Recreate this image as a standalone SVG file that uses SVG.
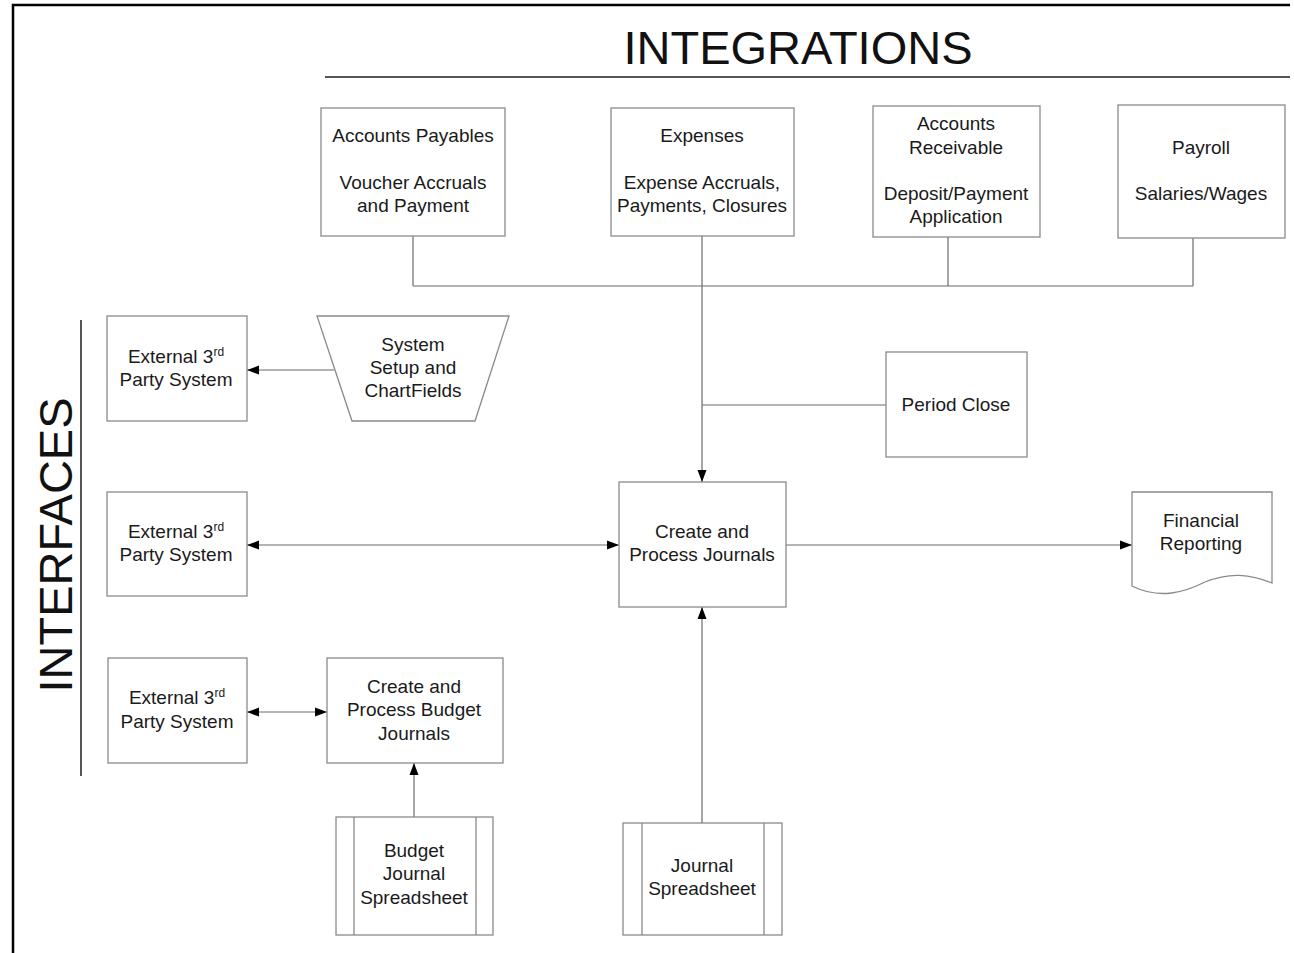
<svg xmlns="http://www.w3.org/2000/svg" width="1294" height="953" viewBox="0 0 1294 953">
<defs>
<style>
.box{fill:#fff;stroke:#8a8a8a;stroke-width:1.3}
.ln{fill:none;stroke:#6a6a6a;stroke-width:1.2}
text{font-family:"Liberation Sans",Arial,sans-serif;font-size:19px;fill:#1a1a1a;text-anchor:middle}
.big{font-size:47px;fill:#111}
.sup{font-size:12px}
</style>
<marker id="ah" viewBox="0 0 12 10" refX="12" refY="5" markerWidth="12" markerHeight="10" markerUnits="userSpaceOnUse" orient="auto-start-reverse">
<path d="M0,0.5 L12,5 L0,9.5 Z" fill="#000"/>
</marker>
</defs>
<rect width="1294" height="953" fill="#fff"/>
<g id="frame">
<path d="M13,953 V5 H1290" fill="none" stroke="#000" stroke-width="2.5"/>
<line x1="325" y1="77" x2="1290" y2="77" stroke="#555" stroke-width="2"/>
<line x1="81" y1="320" x2="81" y2="776" stroke="#555" stroke-width="2"/>
<text class="big" x="798" y="64">INTEGRATIONS</text>
<text class="big" transform="translate(72,545) rotate(-90)">INTERFACES</text>
</g>
<g id="connectors">
<line class="ln" x1="413" y1="236" x2="413" y2="286"/>
<line class="ln" x1="948" y1="237" x2="948" y2="286"/>
<line class="ln" x1="1193" y1="238" x2="1193" y2="286"/>
<line class="ln" x1="413" y1="286" x2="1193" y2="286"/>
<line class="ln" x1="702" y1="236" x2="702" y2="482" marker-end="url(#ah)"/>
<line class="ln" x1="702" y1="405" x2="886" y2="405"/>
<line class="ln" x1="334" y1="370" x2="247" y2="370" marker-end="url(#ah)"/>
<line class="ln" x1="247" y1="545" x2="619" y2="545" marker-start="url(#ah)" marker-end="url(#ah)"/>
<line class="ln" x1="786" y1="545" x2="1132" y2="545" marker-end="url(#ah)"/>
<line class="ln" x1="247" y1="712" x2="327" y2="712" marker-start="url(#ah)" marker-end="url(#ah)"/>
<line class="ln" x1="414" y1="817" x2="414" y2="763" marker-end="url(#ah)"/>
<line class="ln" x1="702" y1="823" x2="702" y2="607" marker-end="url(#ah)"/>
</g>
<g id="ap">
<rect class="box" x="321" y="108" width="184" height="128"/>
<text x="413" y="142">Accounts Payables</text>
<text x="413" y="189">Voucher Accruals</text>
<text x="413" y="212">and Payment</text>
</g>
<g id="expenses">
<rect class="box" x="611" y="108" width="183" height="128"/>
<text x="702" y="142">Expenses</text>
<text x="702" y="189">Expense Accruals,</text>
<text x="702" y="212">Payments, Closures</text>
</g>
<g id="ar">
<rect class="box" x="873" y="106" width="167" height="131"/>
<text x="956" y="130">Accounts</text>
<text x="956" y="154">Receivable</text>
<text x="956" y="200">Deposit/Payment</text>
<text x="956" y="223">Application</text>
</g>
<g id="payroll">
<rect class="box" x="1118" y="105" width="167" height="133"/>
<text x="1201" y="154">Payroll</text>
<text x="1201" y="200">Salaries/Wages</text>
</g>
<g id="ext1">
<rect class="box" x="107" y="316" width="140" height="105"/>
<text x="176" y="363">External 3<tspan class="sup" dy="-7">rd</tspan></text>
<text x="176" y="386">Party System</text>
</g>
<g id="setup">
<path class="box" d="M317,316 H509 L475,421 H352 Z"/>
<text x="413" y="351">System</text>
<text x="413" y="374">Setup and</text>
<text x="413" y="397">ChartFields</text>
</g>
<g id="period-close">
<rect class="box" x="886" y="352" width="141" height="105"/>
<text x="956" y="411">Period Close</text>
</g>
<g id="ext2">
<rect class="box" x="107" y="492" width="140" height="104"/>
<text x="176" y="538">External 3<tspan class="sup" dy="-7">rd</tspan></text>
<text x="176" y="561">Party System</text>
</g>
<g id="journals">
<rect class="box" x="619" y="482" width="167" height="125"/>
<text x="702" y="538">Create and</text>
<text x="702" y="561">Process Journals</text>
</g>
<g id="reporting">
<path class="box" d="M1132,492 H1272 V583 C1250,574 1230,572 1205,582 C1185,592 1160,600 1132,586 Z"/>
<text x="1201" y="527">Financial</text>
<text x="1201" y="550">Reporting</text>
</g>
<g id="ext3">
<rect class="box" x="108" y="658" width="139" height="105"/>
<text x="177" y="704">External 3<tspan class="sup" dy="-7">rd</tspan></text>
<text x="177" y="728">Party System</text>
</g>
<g id="budget-journals">
<rect class="box" x="327" y="658" width="176" height="105"/>
<text x="414" y="693">Create and</text>
<text x="414" y="716">Process Budget</text>
<text x="414" y="740">Journals</text>
</g>
<g id="budget-sheet">
<rect class="box" x="336" y="817" width="157" height="118"/>
<line class="box" x1="354" y1="817" x2="354" y2="935"/>
<line class="box" x1="476" y1="817" x2="476" y2="935"/>
<text x="414" y="857">Budget</text>
<text x="414" y="880">Journal</text>
<text x="414" y="904">Spreadsheet</text>
</g>
<g id="journal-sheet">
<rect class="box" x="623" y="823" width="159" height="112"/>
<line class="box" x1="642" y1="823" x2="642" y2="935"/>
<line class="box" x1="764" y1="823" x2="764" y2="935"/>
<text x="702" y="872">Journal</text>
<text x="702" y="895">Spreadsheet</text>
</g>
</svg>
